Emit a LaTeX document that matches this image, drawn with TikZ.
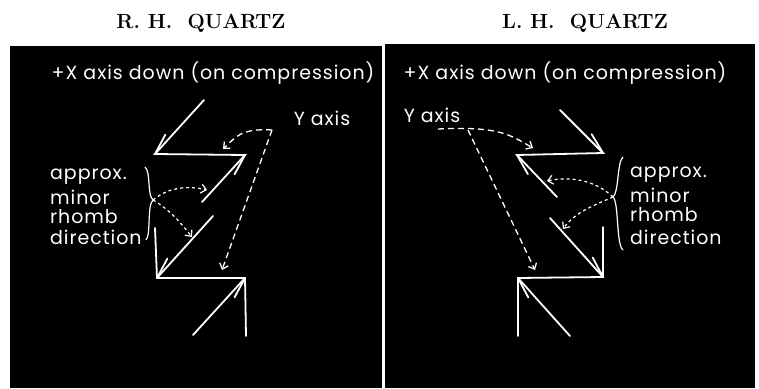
\documentclass[tikz,border=0pt]{standalone}
\usepackage{fontspec}
\newfontfamily\lab{Poppins}[LetterSpace=5]
\usetikzlibrary{arrows.meta,calc}
\tikzset{
  ln/.style={draw=white,line width=1.8pt,line cap=round},
  brc/.style={draw=white,line width=1.2pt},
  dsh/.style={draw=white,line width=1.3pt,dash pattern=on 6pt off 4pt,-{Straight Barb[length=5pt,width=9pt,line width=1.3pt]}},
  dtt/.style={draw=white,line width=1.2pt,dash pattern=on 3pt off 3pt,-{Straight Barb[length=5pt,width=9pt,line width=1.2pt]}},
  ttl/.style={font=\fontsize{20.5}{24}\selectfont\bfseries,text=black},
  txt/.style={font=\lab\fontsize{19}{21}\selectfont,text=white,inner sep=0pt},
}
\newcommand{\barb}[3]{\draw[ln] (#1) -- ($(#1)!22pt!#3:(#2)$);}
\begin{document}
\begin{tikzpicture}[x=1pt,y=-1pt]
\fill[white] (0,0) rectangle (759,388);
\useasboundingbox (0,0) rectangle (759,388);
\fill[black] (10,46) rectangle (382,388);
\fill[black] (385,44) rectangle (755,388);
% titles
\node[ttl] (tl) at (201,23) {R.\ H.\ \ QUARTZ};
\node[ttl] (tr) at (585,23) {L.\ H.\ \ QUARTZ};
% texts
\node[txt] (xl) at (213,73) {+X axis down (on compression)};
\node[txt] (xr) at (565,73) {+X axis down (on compression)};
\node[txt] (yl) at (322,118) {Y axis};
\node[txt] (yr) at (432,115) {Y axis};
\node[txt,anchor=west] (al) at (50,177) {approx.};
\node[txt,anchor=west] (ml) at (50,197) {minor};
\node[txt,anchor=west] (rl) at (50,217) {rhomb};
\node[txt,anchor=west] (dl) at (50,237) {direction};
\node[txt,anchor=west] (ar) at (630,175) {approx.};
\node[txt,anchor=west] (mr) at (630,195) {minor};
\node[txt,anchor=west] (rr) at (630,215) {rhomb};
\node[txt,anchor=west] (dr) at (630,237) {direction};
% left zigzag
\coordinate (L1) at (204,100); \coordinate (L2) at (155,154);
\coordinate (L3) at (245,155); \coordinate (L4) at (202,202);
\coordinate (L5) at (213,216); \coordinate (L6) at (157,278);
\coordinate (L7) at (155,228); \coordinate (L8) at (245,278);
\coordinate (L9) at (193,335); \coordinate (L10) at (246,336);
\draw[ln] (L1) -- (L2) -- (L3) -- (L4);
\draw[ln] (L5) -- (L6);
\draw[ln] (L7) -- (L6) -- (L8) -- (L10);
\draw[ln] (L9) -- (L8);
\barb{L2}{L1}{14} \barb{L3}{L4}{14} \barb{L6}{L5}{14} \barb{L8}{L9}{14}
% right zigzag
\coordinate (R1) at (560,110); \coordinate (R2) at (603,153);
\coordinate (R3) at (517,155); \coordinate (R4) at (557,197);
\coordinate (R5) at (550,218); \coordinate (R6) at (603,277);
\coordinate (R7) at (603,227); \coordinate (R8) at (518,278);
\coordinate (R9) at (570,336); \coordinate (R10) at (518,336);
\draw[ln] (R1) -- (R2) -- (R3) -- (R4);
\draw[ln] (R5) -- (R6);
\draw[ln] (R7) -- (R6) -- (R8) -- (R10);
\draw[ln] (R9) -- (R8);
\barb{R2}{R1}{-14} \barb{R3}{R4}{-14} \barb{R6}{R5}{-14} \barb{R8}{R9}{-14}
% braces
\coordinate (cl) at (153,200); \coordinate (cr) at (613,197);
\draw[brc] (145,167) .. controls (151,172) and (147,195) .. (cl) .. controls (147,205) and (151,235) .. (146,240);
\draw[brc] (623,157) .. controls (617,162) and (619,192) .. (cr) .. controls (619,202) and (616,245) .. (623,250);
% Y axis dashed
\coordinate (yla) at (272,130); \coordinate (yra) at (438,129); \coordinate (yrb) at (468,130);
\draw[dsh] (yla) .. controls (240,128) and (235,138) .. (223,149);
\draw[dsh] (yla) -- (222,270);
\draw[dsh] (yra) .. controls (500,126) and (510,135) .. (533,148);
\draw[dsh] (yrb) -- (535,270);
% brace dotted
\draw[dtt] (cl) .. controls (170,186) and (190,186) .. (207,190);
\draw[dtt] (cl) .. controls (170,210) and (180,222) .. (192,237);
\draw[dtt] (cr) .. controls (595,180) and (570,176) .. (547,181);
\draw[dtt] (cr) .. controls (595,205) and (575,212) .. (563,229);
\end{tikzpicture}
\end{document}
